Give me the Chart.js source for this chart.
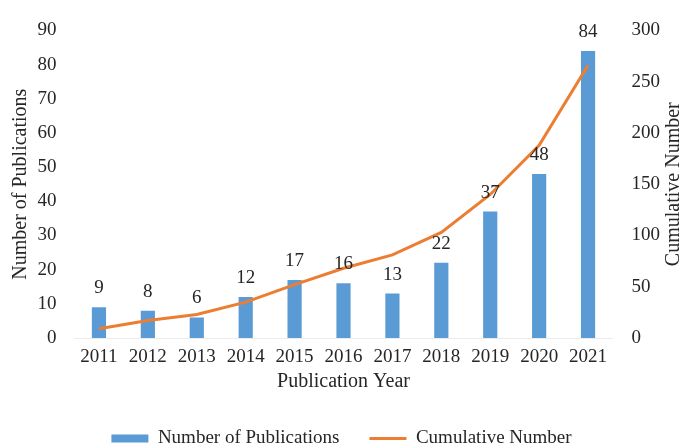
<!DOCTYPE html>
<html>
<head>
<meta charset="utf-8">
<script src="https://cdn.jsdelivr.net/npm/chart.js@4/dist/chart.umd.min.js"></script>
<style>
  html, body { margin: 0; padding: 0; background: #fff; }
  #wrap { width: 683px; height: 447px; }
</style>
</head>
<body>
<div id="wrap"><canvas id="pubChart"></canvas></div>
<script>
// publications per year and running total
const years = ['2011', '2012', '2013', '2014', '2015', '2016', '2017', '2018', '2019', '2020', '2021'];
const publications = [9, 8, 6, 12, 17, 16, 13, 22, 37, 48, 84];
const cumulative = [9, 17, 23, 35, 52, 68, 81, 103, 140, 188, 266];
const leftTicks = [0, 90, 10];   // min, max, step
const rightTicks = [0, 300, 50];

const FONT = "'Liberation Serif', 'Times New Roman', serif";
const TEXT = '#262626';

// numbers on top of the bars
const barLabels = {
  id: 'barLabels',
  afterDatasetsDraw(chart) {
    const meta = chart.getDatasetMeta(0);
    const ctx = chart.ctx;
    ctx.save();
    ctx.font = '19px ' + FONT;
    ctx.fillStyle = TEXT;
    ctx.textAlign = 'center';
    ctx.textBaseline = 'middle';
    meta.data.forEach((bar, i) => {
      ctx.fillText(publications[i], bar.x, bar.y - 19);
    });
    ctx.restore();
  }
};

// right axis title, reading bottom to top like the left one
const rightTitle = {
  id: 'rightTitle',
  afterDraw(chart) {
    const area = chart.chartArea;
    const ctx = chart.ctx;
    ctx.save();
    ctx.translate(chart.scales.y1.right - 9, (area.top + area.bottom) / 2);
    ctx.rotate(-Math.PI / 2);
    ctx.font = '20px ' + FONT;
    ctx.fillStyle = TEXT;
    ctx.textAlign = 'center';
    ctx.textBaseline = 'middle';
    ctx.fillText('Cumulative Number', 0, 0);
    ctx.restore();
  }
};

Chart.defaults.font.family = FONT;
Chart.defaults.font.size = 19;
Chart.defaults.color = TEXT;

new Chart(document.getElementById('pubChart'), {
  type: 'bar',
  data: {
    labels: years,
    datasets: [
      {
        type: 'bar',
        label: 'Number of Publications',
        data: publications,
        backgroundColor: '#5B9BD5',
        borderWidth: 0,
        barPercentage: 0.29,
        categoryPercentage: 1,
        pointStyle: 'rect',
        yAxisID: 'y',
        order: 2
      },
      {
        type: 'line',
        label: 'Cumulative Number',
        data: cumulative,
        borderColor: '#ED7D31',
        backgroundColor: '#ED7D31',
        borderWidth: 3,
        pointRadius: 0,
        pointStyle: 'line',
        tension: 0,
        yAxisID: 'y1',
        order: 1
      }
    ]
  },
  options: {
    responsive: true,
    maintainAspectRatio: false,
    animation: false,
    layout: { padding: { top: 26, left: 0, right: 0, bottom: 0 } },
    plugins: {
      tooltip: { enabled: false },
      legend: {
        position: 'bottom',
        maxHeight: 48,
        labels: {
          usePointStyle: true,
          pointStyleWidth: 37,
          boxHeight: 8,
          padding: 30,
          color: TEXT,
          font: { size: 19 },
          sort: (a, b) => a.datasetIndex - b.datasetIndex
        }
      }
    },
    scales: {
      x: {
        offset: true,
        grid: { display: false, drawTicks: false },
        border: { display: true, color: '#ececec', width: 1 },
        ticks: { padding: 8, font: { size: 19 } },
        title: { display: true, text: 'Publication Year', font: { size: 20 }, padding: { top: 0, bottom: 5 } },
        afterFit(scale) { scale.height = 61; }
      },
      y: {
        position: 'left',
        min: leftTicks[0],
        max: leftTicks[1],
        ticks: { stepSize: leftTicks[2], padding: 18, font: { size: 19 } },
        grid: { display: false, drawTicks: false },
        border: { display: false },
        title: { display: true, text: 'Number of Publications', font: { size: 20 }, padding: { top: 9, bottom: 0 } },
        afterFit(scale) { scale.width = 74.5; }
      },
      y1: {
        position: 'right',
        min: rightTicks[0],
        max: rightTicks[1],
        ticks: { stepSize: rightTicks[2], padding: 19, font: { size: 19 } },
        grid: { display: false, drawTicks: false },
        border: { display: false },
        afterFit(scale) { scale.width = 70.5; }
      }
    }
  },
  plugins: [barLabels, rightTitle]
});
</script>
</body>
</html>
